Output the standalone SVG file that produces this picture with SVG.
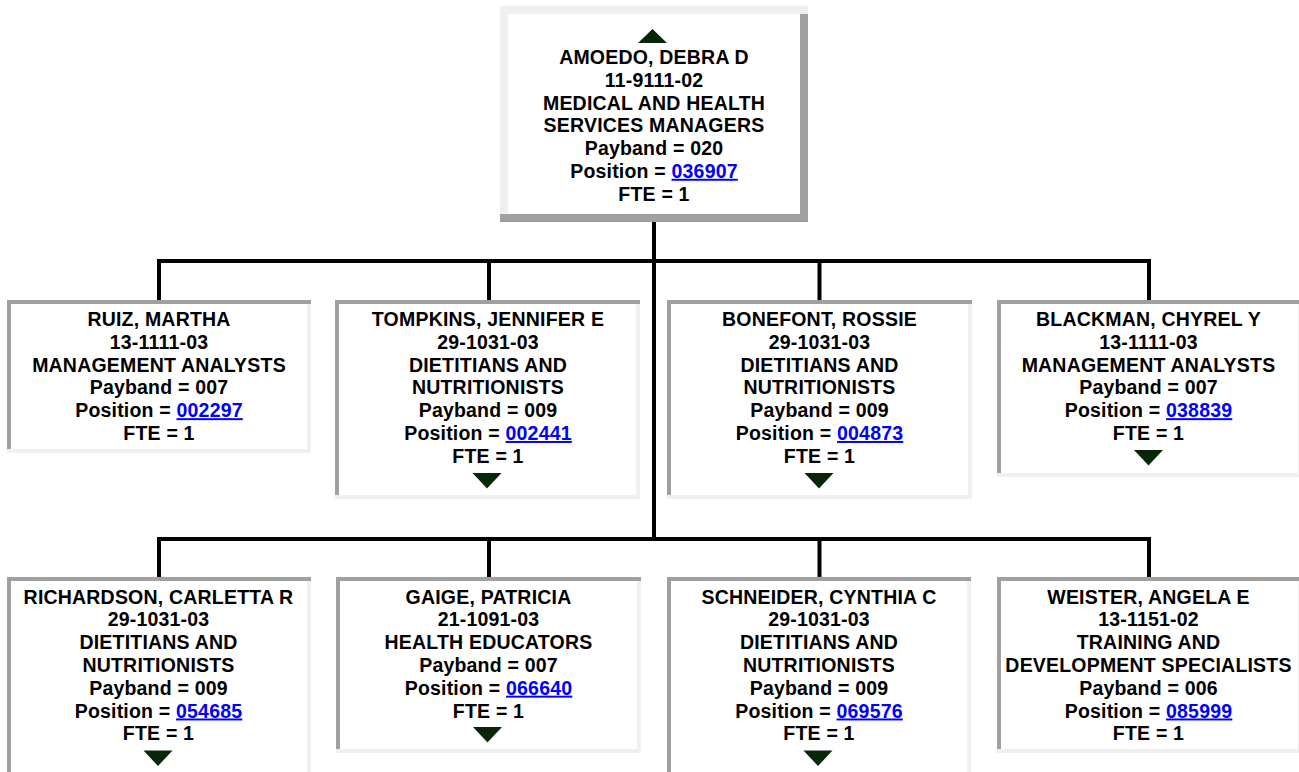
<svg xmlns="http://www.w3.org/2000/svg" xmlns:xlink="http://www.w3.org/1999/xlink" width="1299" height="772" viewBox="0 0 1299 772">
<style>
.bg{fill:#ffffff}
.box{fill:#ffffff}
.dk{fill:none;stroke:#a0a0a0;stroke-width:4;stroke-linecap:butt;stroke-linejoin:miter}
.lt{fill:none;stroke:#f0f0f0;stroke-width:4;stroke-linecap:butt;stroke-linejoin:miter}
.dk8{fill:none;stroke:#a0a0a0;stroke-width:8;stroke-linecap:butt;stroke-linejoin:miter}
.lt8{fill:none;stroke:#efefef;stroke-width:8;stroke-linecap:butt;stroke-linejoin:miter}
.t{font-family:"Liberation Sans",Arial,sans-serif;font-weight:bold;font-size:19.5px;letter-spacing:0.2px;text-anchor:middle;fill:#000000}
.lk{fill:#0000ff;text-decoration:underline}
.tri{fill:#072507}
.cn{stroke:#000000;stroke-width:4;fill:none;stroke-linecap:butt}
</style>
<defs>
<path id="dn" d="M-14.5 0 H14.5 L0 15.5 Z"/>
<path id="up" d="M-14.5 0 H14.5 L0 -14 Z"/>
</defs>
<rect class="bg" x="0" y="0" width="1299" height="772"/>

<g id="connectors">
<line class="cn" x1="654" y1="222" x2="654" y2="541"/>
<line class="cn" x1="157" y1="261" x2="1151" y2="261"/>
<line class="cn" x1="159" y1="261" x2="159" y2="300"/>
<line class="cn" x1="489" y1="261" x2="489" y2="300"/>
<line class="cn" x1="819.5" y1="261" x2="819.5" y2="300"/>
<line class="cn" x1="1149" y1="261" x2="1149" y2="300"/>
<line class="cn" x1="157" y1="539" x2="1151" y2="539"/>
<line class="cn" x1="159" y1="539" x2="159" y2="577"/>
<line class="cn" x1="489" y1="539" x2="489" y2="577"/>
<line class="cn" x1="819.5" y1="539" x2="819.5" y2="577"/>
<line class="cn" x1="1149" y1="539" x2="1149" y2="577"/>
</g>

<g id="n-amoedo">
<rect class="box" x="500" y="6" width="308" height="216"/>
<path class="lt8" d="M504 214 V10 H808"/>
<path class="dk8" d="M804 14 V218 H500"/>
<use xlink:href="#up" class="tri" x="652.5" y="43"/>
<text class="t" x="654" y="64">AMOEDO, DEBRA D</text>
<text class="t" x="654" y="86.8">11-9111-02</text>
<text class="t" x="654" y="109.5">MEDICAL AND HEALTH</text>
<text class="t" x="654" y="132.3">SERVICES MANAGERS</text>
<text class="t" x="654" y="155">Payband = 020</text>
<text class="t" x="654" y="177.8">Position = <tspan class="lk">036907</tspan></text>
<text class="t" x="654" y="200.5">FTE = 1</text>
</g>

<g id="n-ruiz">
<rect class="box" x="7" y="300" width="304" height="153"/>
<path class="dk" d="M9 449 V302 H311"/>
<path class="lt" d="M309 304 V451 H7"/>
<text class="t" x="159" y="326">RUIZ, MARTHA</text>
<text class="t" x="159" y="348.8">13-1111-03</text>
<text class="t" x="159" y="371.6">MANAGEMENT ANALYSTS</text>
<text class="t" x="159" y="394.4">Payband = 007</text>
<text class="t" x="159" y="417.2">Position = <tspan class="lk">002297</tspan></text>
<text class="t" x="159" y="440">FTE = 1</text>
</g>

<g id="n-tompkins">
<rect class="box" x="335" y="300" width="305" height="199"/>
<path class="dk" d="M337 495 V302 H640"/>
<path class="lt" d="M638 304 V497 H335"/>
<text class="t" x="488" y="326">TOMPKINS, JENNIFER E</text>
<text class="t" x="488" y="348.8">29-1031-03</text>
<text class="t" x="488" y="371.6">DIETITIANS AND</text>
<text class="t" x="488" y="394.4">NUTRITIONISTS</text>
<text class="t" x="488" y="417.2">Payband = 009</text>
<text class="t" x="488" y="440">Position = <tspan class="lk">002441</tspan></text>
<text class="t" x="488" y="462.8">FTE = 1</text>
<use xlink:href="#dn" class="tri" x="487" y="473"/>
</g>

<g id="n-bonefont">
<rect class="box" x="667" y="300" width="305" height="199"/>
<path class="dk" d="M669 495 V302 H972"/>
<path class="lt" d="M970 304 V497 H667"/>
<text class="t" x="819.5" y="326">BONEFONT, ROSSIE</text>
<text class="t" x="819.5" y="348.8">29-1031-03</text>
<text class="t" x="819.5" y="371.6">DIETITIANS AND</text>
<text class="t" x="819.5" y="394.4">NUTRITIONISTS</text>
<text class="t" x="819.5" y="417.2">Payband = 009</text>
<text class="t" x="819.5" y="440">Position = <tspan class="lk">004873</tspan></text>
<text class="t" x="819.5" y="462.8">FTE = 1</text>
<use xlink:href="#dn" class="tri" x="819" y="473"/>
</g>

<g id="n-blackman">
<rect class="box" x="997" y="300" width="305" height="177"/>
<path class="dk" d="M999 473 V302 H1302"/>
<path class="lt" d="M1300 304 V475 H997"/>
<text class="t" x="1148.5" y="326">BLACKMAN, CHYREL Y</text>
<text class="t" x="1148.5" y="348.8">13-1111-03</text>
<text class="t" x="1148.5" y="371.6">MANAGEMENT ANALYSTS</text>
<text class="t" x="1148.5" y="394.4">Payband = 007</text>
<text class="t" x="1148.5" y="417.2">Position = <tspan class="lk">038839</tspan></text>
<text class="t" x="1148.5" y="440">FTE = 1</text>
<use xlink:href="#dn" class="tri" x="1148.5" y="450"/>
</g>

<g id="n-richardson">
<rect class="box" x="7" y="577" width="304" height="200"/>
<path class="dk" d="M9 773 V579 H311"/>
<path class="lt" d="M309 581 V775 H7"/>
<text class="t" x="158.5" y="603.5">RICHARDSON, CARLETTA R</text>
<text class="t" x="158.5" y="626.3">29-1031-03</text>
<text class="t" x="158.5" y="649.1">DIETITIANS AND</text>
<text class="t" x="158.5" y="671.9">NUTRITIONISTS</text>
<text class="t" x="158.5" y="694.7">Payband = 009</text>
<text class="t" x="158.5" y="717.5">Position = <tspan class="lk">054685</tspan></text>
<text class="t" x="158.5" y="740.3">FTE = 1</text>
<use xlink:href="#dn" class="tri" x="158" y="750.5"/>
</g>

<g id="n-gaige">
<rect class="box" x="336" y="577" width="305" height="176"/>
<path class="dk" d="M338 749 V579 H641"/>
<path class="lt" d="M639 581 V751 H336"/>
<text class="t" x="488.5" y="603.5">GAIGE, PATRICIA</text>
<text class="t" x="488.5" y="626.3">21-1091-03</text>
<text class="t" x="488.5" y="649.1">HEALTH EDUCATORS</text>
<text class="t" x="488.5" y="671.9">Payband = 007</text>
<text class="t" x="488.5" y="694.7">Position = <tspan class="lk">066640</tspan></text>
<text class="t" x="488.5" y="717.5">FTE = 1</text>
<use xlink:href="#dn" class="tri" x="487.5" y="727"/>
</g>

<g id="n-schneider">
<rect class="box" x="667" y="577" width="304" height="200"/>
<path class="dk" d="M669 773 V579 H971"/>
<path class="lt" d="M969 581 V775 H667"/>
<text class="t" x="819" y="603.5">SCHNEIDER, CYNTHIA C</text>
<text class="t" x="819" y="626.3">29-1031-03</text>
<text class="t" x="819" y="649.1">DIETITIANS AND</text>
<text class="t" x="819" y="671.9">NUTRITIONISTS</text>
<text class="t" x="819" y="694.7">Payband = 009</text>
<text class="t" x="819" y="717.5">Position = <tspan class="lk">069576</tspan></text>
<text class="t" x="819" y="740.3">FTE = 1</text>
<use xlink:href="#dn" class="tri" x="818" y="750.5"/>
</g>

<g id="n-weister">
<rect class="box" x="997" y="577" width="305" height="176"/>
<path class="dk" d="M999 749 V579 H1302"/>
<path class="lt" d="M1300 581 V751 H997"/>
<text class="t" x="1148.5" y="603.5">WEISTER, ANGELA E</text>
<text class="t" x="1148.5" y="626.3">13-1151-02</text>
<text class="t" x="1148.5" y="649.1">TRAINING AND</text>
<text class="t" x="1148.5" y="671.9">DEVELOPMENT SPECIALISTS</text>
<text class="t" x="1148.5" y="694.7">Payband = 006</text>
<text class="t" x="1148.5" y="717.5">Position = <tspan class="lk">085999</tspan></text>
<text class="t" x="1148.5" y="740.3">FTE = 1</text>
</g>
</svg>
